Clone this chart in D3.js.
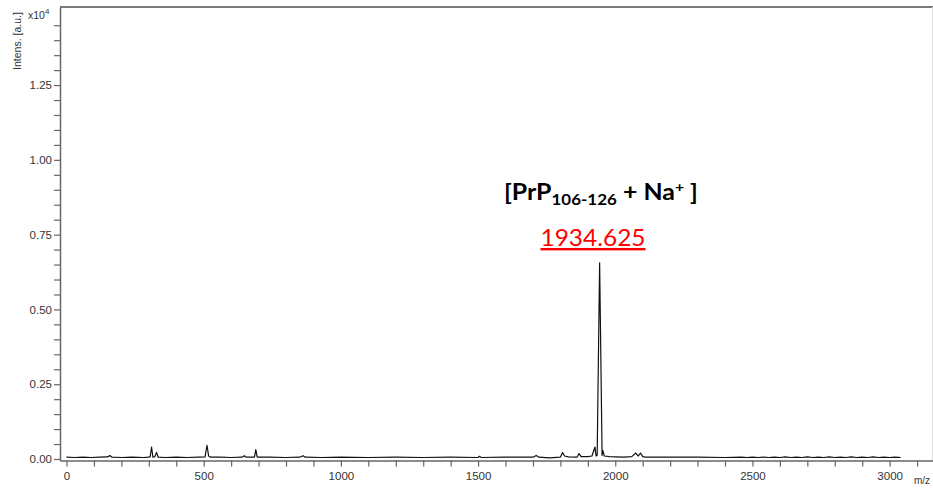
<!DOCTYPE html>
<html>
<head>
<meta charset="utf-8">
<script src="https://cdn.jsdelivr.net/npm/d3@7"></script>
<style>
  body { margin: 0; background: #fff; }
  svg { display: block; }
</style>
</head>
<body>
<svg id="chart" width="933" height="492"></svg>
<script>
// points du spectre (m/z, intensité x10^4)
const mz = [
  0, 30, 60, 90, 120, 150, 158, 166, 200, 240, 280, 300, 305, 310, 315, 322, 328, 334,
  360, 400, 440, 480, 505, 512, 518, 525, 560, 600, 640, 648, 655, 685, 690, 695,
  740, 800, 850, 862, 870, 930, 1000, 1100, 1200, 1300, 1400, 1500, 1505, 1512,
  1600, 1700, 1712, 1722, 1760, 1800, 1808, 1815, 1830, 1860, 1868, 1876, 1900,
  1915, 1926, 1930, 1934, 1943, 1952, 1955, 1960, 1980, 2000, 2030, 2060, 2075,
  2083, 2092, 2100, 2110, 2200, 2300, 2400, 2460, 2480, 2500, 2520, 2540, 2560,
  2580, 2600, 2620, 2640, 2660, 2680, 2700, 2720, 2740, 2760, 2780, 2800, 2820,
  2840, 2860, 2880, 2900, 2920, 2940, 2960, 2980, 3000, 3020, 3040
];
const intensity = [
  0.006, 0.005, 0.006, 0.005, 0.006, 0.007, 0.012, 0.006, 0.005, 0.006, 0.005, 0.006, 0.008, 0.040, 0.006, 0.008, 0.022, 0.006,
  0.005, 0.006, 0.005, 0.006, 0.007, 0.046, 0.010, 0.006, 0.006, 0.005, 0.006, 0.011, 0.006, 0.006, 0.031, 0.006,
  0.006, 0.005, 0.006, 0.011, 0.006, 0.005, 0.006, 0.005, 0.006, 0.005, 0.006, 0.005, 0.009, 0.005,
  0.006, 0.006, 0.012, 0.006, 0.004, 0.006, 0.022, 0.010, 0.007, 0.006, 0.018, 0.008, 0.008,
  0.010, 0.040, 0.010, 0.012, 0.656, 0.012, 0.028, 0.010, 0.008, 0.007, 0.006, 0.008, 0.020,
  0.010, 0.020, 0.008, 0.006, 0.006, 0.006, 0.005, 0.006, 0.005, 0.0065, 0.005, 0.0065, 0.005,
  0.0065, 0.005, 0.007, 0.005, 0.0065, 0.005, 0.007, 0.005, 0.0065, 0.005, 0.007, 0.005, 0.0065,
  0.005, 0.007, 0.005, 0.0065, 0.005, 0.007, 0.005, 0.0065, 0.005, 0.0065, 0.005
];

const xMajor = [0, 500, 1000, 1500, 2000, 2500, 3000];
const xMinor = d3.range(0, 3101, 100);
const yMajor = [0, 0.25, 0.5, 0.75, 1.0, 1.25];
const yMinor = d3.range(0, 1.451, 0.05);

const peakLabel = { main: "[PrP", sub: "106-126", mid: " + Na", sup: "+", end: " ]" };
const peakValue = "1934.625";

const svg = d3.select("#chart");
const mLeft = 60, mRight = 933, mTop = 7, mBottom = 460.5;

const x = d3.scaleLinear().domain([-23.7, 3158]).range([mLeft, mRight]);
const y = d3.scaleLinear().domain([-0.005, 1.511]).range([mBottom, mTop]);

const axisColor = "#666";
const labelColor = "#333";
const axisFont = "Liberation Sans, Arial, sans-serif";
const annotFont = "Lato, 'Noto Sans', sans-serif";

// cadre : bord supérieur + bord droit discret
svg.append("line").attr("x1", mLeft).attr("x2", mRight).attr("y1", mTop).attr("y2", mTop)
  .attr("stroke", "#7a7a7a").attr("stroke-width", 2);
svg.append("line").attr("x1", mRight - 0.5).attr("x2", mRight - 0.5).attr("y1", mTop).attr("y2", mBottom)
  .attr("stroke", "#ddd").attr("stroke-width", 1);

// axe x
const gx = svg.append("g").attr("transform", `translate(0,${mBottom})`)
  .call(d3.axisBottom(x).tickValues(xMinor).tickSize(6).tickSizeOuter(0)
    .tickFormat(d => xMajor.includes(d) ? d : ""));
gx.select(".domain").attr("stroke", axisColor).attr("stroke-width", 1.5);
gx.selectAll(".tick line").attr("stroke", axisColor).attr("stroke-width", 1.2);
gx.selectAll("text").attr("fill", labelColor).attr("font-family", axisFont)
  .attr("font-size", "11.5px").attr("dy", "0.9em");

// axe y
const gy = svg.append("g").attr("transform", `translate(${mLeft},0)`)
  .call(d3.axisLeft(y).tickValues(yMinor).tickSize(6).tickSizeOuter(0)
    .tickFormat(d => yMajor.some(v => Math.abs(v - d) < 1e-6) ? d3.format(".2f")(d) : ""));
gy.select(".domain").attr("stroke", axisColor).attr("stroke-width", 1.5);
gy.selectAll(".tick line").attr("stroke", axisColor).attr("stroke-width", 1.2);
gy.selectAll("text").attr("fill", labelColor).attr("font-family", axisFont)
  .attr("font-size", "11.5px").attr("x", -8);

// titres des axes
svg.append("text").attr("transform", "translate(21,41) rotate(-90)")
  .attr("text-anchor", "middle").attr("fill", labelColor)
  .attr("font-family", axisFont).attr("font-size", "10.5px")
  .text("Intens. [a.u.]");
const exp = svg.append("text").attr("x", 28).attr("y", 19).attr("fill", labelColor)
  .attr("font-family", axisFont).attr("font-size", "10.5px");
exp.append("tspan").text("x10");
exp.append("tspan").attr("dy", -5).attr("font-size", "8px").text("4");
svg.append("text").attr("x", 914).attr("y", 484).attr("fill", labelColor)
  .attr("font-family", axisFont).attr("font-size", "10px").text("m/z");

// spectre
const pts = mz.map((m, i) => [m, intensity[i]]);
svg.append("path").datum(pts)
  .attr("fill", "none").attr("stroke", "#111").attr("stroke-width", 1.2)
  .attr("stroke-linejoin", "round")
  .attr("d", d3.line().x(d => x(d[0])).y(d => y(d[1])));

// ajuste la largeur d'un texte centré sur cx
function fitWidth(sel, cx, w) {
  const bb = sel.node().getBBox();
  const k = w / bb.width;
  sel.attr("transform", `translate(${cx},0) scale(${k},1) translate(${-cx},0)`);
}

// annotation du pic
const lab = svg.append("text").attr("x", 601).attr("y", 200).attr("text-anchor", "middle")
  .attr("font-family", annotFont).attr("font-weight", "bold")
  .attr("font-size", "22px").attr("fill", "#000");
lab.append("tspan").text(peakLabel.main);
lab.append("tspan").attr("font-size", "15px").attr("dy", 5).text(peakLabel.sub);
lab.append("tspan").attr("dy", -5).text(peakLabel.mid);
lab.append("tspan").attr("font-size", "14px").attr("dy", -8).text(peakLabel.sup);
lab.append("tspan").attr("dy", 8).text(peakLabel.end);
fitWidth(lab, 601, 194);

const val = svg.append("text").attr("x", 593).attr("y", 246).attr("text-anchor", "middle")
  .attr("font-family", annotFont).attr("font-size", "24px")
  .attr("fill", "#ff0000").attr("text-decoration", "underline").text(peakValue);
fitWidth(val, 593, 105);
</script>
</body>
</html>
